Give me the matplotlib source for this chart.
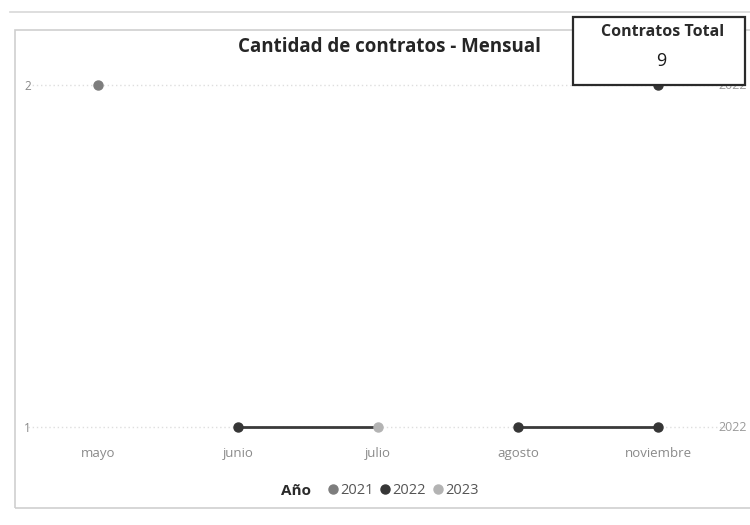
import numpy as np
import matplotlib.pyplot as plt
from matplotlib.patches import Rectangle
from matplotlib.lines import Line2D

meses = ["mayo", "junio", "julio", "agosto", "noviembre"]
anios = [2021, 2022, 2023]
colores = {2021: "#7d7d7d", 2022: "#363636", 2023: "#b3b3b3"}

# puntos del grafico (mes, año, cantidad)
punto_mes = ["mayo", "junio", "julio", "agosto", "noviembre", "noviembre"]
punto_anio = [2021, 2022, 2023, 2022, 2022, 2022]
punto_valor = [2, 1, 1, 1, 1, 2]

# tramos de linea visibles
tramo_ini = ["junio", "agosto"]
tramo_fin = ["julio", "noviembre"]
tramo_valor = [1, 1]

total_contratos = 9

plt.rcParams["font.family"] = ["Open Sans", "DejaVu Sans"]

fig = plt.figure(figsize=(7.5, 5.25), dpi=100)
W, H = 750, 525

def fx(px):
    return px / W

def fy(py):
    return 1 - py / H

# marco de la pagina
fig.add_artist(Line2D([fx(10), fx(750)], [fy(12), fy(12)], color="#d8d8d8", lw=1.2))
fig.add_artist(Rectangle((fx(15), fy(508)), fx(760) - fx(15), fy(30) - fy(508),
                         fill=False, edgecolor="#cfcfcf", lw=1.2))

ax = fig.add_axes([fx(28), fy(440), fx(700), fy(70) - fy(440)])
idx = {m: i for i, m in enumerate(meses)}

for s in ax.spines.values():
    s.set_visible(False)
ax.set_xlim(-0.5, 4.5)
ax.set_ylim(0.962, 2.044)
ax.set_yticks([1, 2])
ax.set_xticks(range(len(meses)))
ax.set_xticklabels(meses)
ax.tick_params(length=0, labelsize=9.5, labelcolor="#8a8a8a")
ax.tick_params(axis="x", pad=5)
ax.tick_params(axis="y", pad=-2, labelsize=8.5)
for v in [1, 2]:
    ax.axhline(v, color="#dedede", lw=1, ls=(0, (1, 2)), zorder=0)

for a, b, v in zip(tramo_ini, tramo_fin, tramo_valor):
    ax.plot([idx[a], idx[b]], [v, v], color="#3a3a3a", lw=2, zorder=2)

for m, a, v in zip(punto_mes, punto_anio, punto_valor):
    ax.plot(idx[m], v, "o", color=colores[a], ms=6.5, zorder=3)

ax.text(4.43, 1, "2022", fontsize=9, color="#9a9a9a", va="center", ha="left", clip_on=False)
ax.text(4.43, 2, "2022", fontsize=9, color="#9a9a9a", va="center", ha="left", clip_on=False)

fig.text(fx(390), fy(47), "Cantidad de contratos - Mensual", ha="center", va="center",
         fontsize=13.5, fontweight="bold", color="#252525")

# tarjeta de total
fig.add_artist(Rectangle((fx(573), fy(85)), fx(745) - fx(573), fy(17) - fy(85),
                         facecolor="white", edgecolor="#2a2a2a", lw=1.6, zorder=10))
fig.text(fx(663), fy(32), "Contratos Total", ha="center", va="center", fontsize=11.5,
         fontweight="bold", color="#2a2a2a", zorder=11)
fig.text(fx(661), fy(61), str(total_contratos), ha="center", va="center", fontsize=13,
         color="#1a1a1a", zorder=11)

# leyenda
fig.text(fx(296), fy(491), "Año", ha="center", va="center", fontsize=11,
         fontweight="bold", color="#2a2a2a")
handles = [Line2D([], [], marker="o", ls="", color=colores[a], ms=6.5) for a in anios]
fig.legend(handles, [str(a) for a in anios], loc="center left",
           bbox_to_anchor=(fx(318), fy(491)), ncol=3, frameon=False, fontsize=10.5,
           handletextpad=0.0, columnspacing=0.3, handlelength=1.0, borderpad=0,
           labelcolor="#555555")

plt.savefig("out.png")
